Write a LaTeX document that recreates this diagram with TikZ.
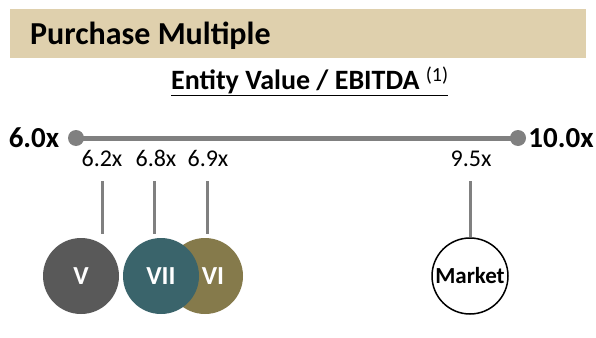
\documentclass[tikz,border=0pt]{standalone}
\usepackage{fontspec}
\setmainfont{Carlito}
\definecolor{bandtan}{HTML}{DFD0AD}
\definecolor{axisgray}{HTML}{808080}
\definecolor{darkgray}{HTML}{595959}
\definecolor{tealdk}{HTML}{3A646B}
\definecolor{olive}{HTML}{857A4B}
\begin{document}
\begin{tikzpicture}[x=1pt,y=-1pt,
  tick/.style={font=\fontsize{24}{26}\selectfont, anchor=base},
  endlabel/.style={font=\bfseries\fontsize{29}{32}\selectfont, anchor=base},
  stem/.style={draw=axisgray, line width=3pt},
  fund/.style={circle, minimum size=76pt, inner sep=0pt, text=white,
    font=\bfseries\fontsize{26}{28}\selectfont},
  enddot/.style={circle, fill=axisgray, minimum size=16pt, inner sep=0pt}]
\useasboundingbox (0,0) rectangle (596,337);
% header band
\fill[bandtan] (10,9) rectangle (586,58);
\node[anchor=base west, inner sep=0pt, font=\bfseries\fontsize{32}{36}\selectfont] (title) at (30,45) {Purchase Multiple};
\node[anchor=base west, inner sep=0pt, font=\bfseries\fontsize{28}{30}\selectfont] (sub) at (171,89)
  {\underline{Entity Value / EBITDA\ \raisebox{8pt}{\fontsize{20}{22}\selectfont\mdseries(1)}}};
% axis
\node[enddot] (lo) at (76,138) {};
\node[enddot] (hi) at (518,138) {};
\draw[axisgray, line width=5pt] (lo.center) -- (hi.center);
\node[endlabel, inner sep=0pt] (lolab) at (34,147) {6.0x};
\node[endlabel, inner sep=0pt] (hilab) at (561,147) {10.0x};
% tick labels
\node[tick, inner sep=0pt] (t62) at (102,166) {6.2x};
\node[tick, inner sep=0pt] (t68) at (156,166) {6.8x};
\node[tick, inner sep=0pt] (t69) at (208,166) {6.9x};
\node[tick, inner sep=0pt] (t95) at (471,166) {9.5x};
% stems
\coordinate (s62) at (102,181);
\coordinate (s68) at (154,181);
\coordinate (s69) at (207,181);
\coordinate (s95) at (470,181);
% circles
\node[fund, fill=olive] (vi) at (205,276) {\hspace*{16pt}VI};
\node[fund, fill=darkgray] (v) at (81,276) {V};
\node[fund, fill=tealdk] (vii) at (161,276) {VII};
\node[circle, draw=black, line width=1.5pt, fill=white, minimum size=76pt, inner sep=0pt,
  font=\bfseries\fontsize{23}{25}\selectfont] (mkt) at (470,276) {Market};
\draw[stem] (s62) -- (102,234);
\draw[stem] (s68) -- (154,234);
\draw[stem] (s69) -- (207,234);
\draw[stem] (s95) -- (mkt.north);
\end{tikzpicture}
\end{document}
